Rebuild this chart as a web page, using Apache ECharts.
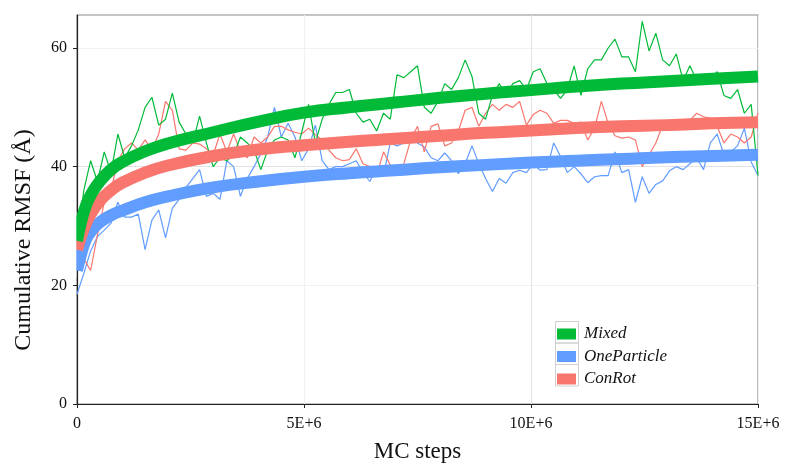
<!DOCTYPE html>
<html><head><meta charset="utf-8">
<script src="https://cdn.jsdelivr.net/npm/echarts@6/dist/echarts.min.js"></script>
<style>html,body{margin:0;padding:0;background:#fff}#c{width:785px;height:465px}</style>
</head><body><div id="c"></div>
<script>
// sampling step of the noisy traces (MC steps per sample)
const STEP = 150000;
const mixed = [27,36,41,37.5,42.5,39,45.5,41.5,43.5,46.2,50,51.7,47,48,52.4,47.5,45.5,
44,48.5,44,40,41.5,41,42,45,44,42.8,39.5,42.8,44.5,45,44.5,41.5,45.8,
50.5,44,48,50.5,52.5,52.5,53,49,47.5,48,46,49,48,55.5,55,56,57,
50,49,51,54,53,55,58,55.2,49,48,52,54,52,54,54.5,53,
56,56.5,54,53,51.5,53,57,52,56.5,58,58,60,61.5,58.5,58.5,56,64.5,
59.5,62.5,58,57,59,54.5,57,54.5,55.5,54.5,56,52,51.5,53,49,50.5,38.5];
const conrot = [26,24.5,22.5,28.5,34,36,41,43,44,42.8,44.5,42.8,45.5,51,49.5,43,42.8,
44,43.8,43,42,45.5,42.5,45.5,42.5,41.5,45,44,45,46.8,46.8,46.2,45.8,45.5,
46.5,45.4,44.5,42.8,41.5,41,41.2,43,40.5,40,38.5,42.5,40.3,38.5,40.5,44.5,46.8,
42.5,46.8,47.2,43.5,44,46,49.5,50,46.8,49,50.5,49.5,50.5,50,51,47,
48.8,49.5,49,47.3,47.8,47.8,47.3,47.5,44.5,46.5,51,47.3,45.2,44.8,45,44.5,40,
42,44,47,46.7,46.5,46.8,47.8,49,48.4,48.2,46.8,44,45.5,45,44,45,49];
const onepart = [18.5,22,25.8,28.2,29.3,30.5,34,31.5,31.5,32,26,31,32.7,28,33,34.5,36.5,
38,39.5,35,35.5,34.5,41,40,35,38,40,42.2,45,50,45,47.3,45,41,
43,47,41,39.5,40,40,40.5,41,39,37.5,40,38.5,44,43.5,44,45,44,
43.3,41.5,41,42.3,41,38.8,40.5,43.5,40.5,38,35.8,38,37.2,39,39.4,39,
40.5,39.4,39.5,44,41.7,39,40,38.8,37.3,38.3,38.5,38.5,42.5,39,39.5,34,38.3,
35.5,37,37.6,39.3,40,39.5,40.5,41.5,39.5,44,45.5,42,42.5,43.5,46.5,40.8,38.5];
// smooth fit curves
const fitSteps = [0,1e5,2e5,3e5,5e5,7.5e5,1e6,1.5e6,2e6,3e6,4e6,5e6,6e6,7e6,8e6,9e6,10e6,11e6,12e6,13e6,14e6,15e6];
const fitMixed = [27.5,31,33.5,35.2,37.5,39.5,40.8,42.6,43.9,45.8,47.6,49.1,50.0,50.8,51.6,52.3,52.9,53.5,54.0,54.4,54.8,55.2];
const fitConrot = [26,28.5,30.5,32,34.2,36,37.3,39.0,40.2,41.8,42.9,43.6,44.2,44.7,45.2,45.7,46.1,46.5,46.8,47.0,47.3,47.5];
const fitOnepart = [22.5,25.5,27.8,29.0,30.6,31.8,32.6,34.0,35.0,36.5,37.5,38.3,38.9,39.4,39.9,40.3,40.7,41.0,41.3,41.6,41.8,42.0];
const names = ['Mixed','OneParticle','ConRot'];
const xTicks = [0,5e6,10e6,15e6];
const yTicks = [0,20,40,60];

const colors = {Mixed:'#00BA38', OneParticle:'#619CFF', ConRot:'#F8766D'};
const pair = (arr) => arr.map((v,i)=>[i*STEP, v]);
const fpair = (arr) => arr.map((v,i)=>[fitSteps[i], v]);
const FONT = '"Liberation Serif", serif';

const noisy = (name, arr) => ({type:'line', name, data:pair(arr), showSymbol:false, smooth:false,
  lineStyle:{width:1.2, color:colors[name]}, itemStyle:{color:colors[name]}, z:2, silent:true});
const fit = (name, arr) => ({type:'line', name, data:fpair(arr), showSymbol:false, smooth:true,
  lineStyle:{width:12, color:colors[name], cap:'butt'}, itemStyle:{color:colors[name]}, z:3, silent:true});

const chart = echarts.init(document.getElementById('c'), null, {renderer:'canvas'});
chart.setOption({
  animation:false,
  backgroundColor:'#fff',
  grid:{left:77, right:27, top:15, bottom:61, outerBoundsMode:'none', containLabel:false,
    show:true, borderColor:'#8c8c8c', borderWidth:1.2, backgroundColor:'#fff'},
  xAxis:{type:'value', min:0, max:15e6, interval:2.5e6,
    axisLine:{show:true, onZero:false, lineStyle:{color:'#222', width:1.2}},
    axisTick:{show:true, customValues:xTicks, length:4, lineStyle:{color:'#222'}},
    axisLabel:{customValues:xTicks, fontFamily:FONT, fontSize:16, color:'#111', margin:12,
      formatter:(v)=> v===0 ? '0' : (v/1e6)+'E+6'},
    splitLine:{show:true, lineStyle:{color:['#e2e2e2','#f1f1f1'], width:1}},
    name:'MC steps', nameLocation:'middle', nameGap:36,
    nameTextStyle:{fontFamily:FONT, fontSize:23, color:'#111'}},
  yAxis:{type:'value', min:0, max:65.56, interval:10,
    axisLine:{show:true, lineStyle:{color:'#222', width:1.2}},
    axisTick:{show:true, customValues:yTicks, length:4, lineStyle:{color:'#222'}},
    axisLabel:{customValues:yTicks, fontFamily:FONT, fontSize:16, color:'#111', margin:10},
    splitLine:{show:true, lineStyle:{color:['#e2e2e2','#f1f1f1'], width:1}}},
  legend:{show:true, orient:'vertical', left:557, top:325.5, padding:0, data:names,
    icon:'rect', itemWidth:19, itemHeight:11, itemGap:5.5,
    textStyle:{fontFamily:FONT, fontSize:17, fontStyle:'italic', color:'#111', lineHeight:16, padding:[0,0,0,3]}},
  graphic:[
    ...[0,1,2].map(i=>({type:'rect', z:100, silent:true,
      shape:{x:555.5, y:321.5+21.5*i, width:23, height:21.5},
      style:{fill:'none', stroke:'#cfcfcf', lineWidth:1}})),
    {type:'rect', z:50, silent:true, shape:{x:68, y:212, width:8.3, height:65}, style:{fill:'#fff'}},
    {type:'text', z:60, silent:true, x:24, y:240, rotation:Math.PI/2,
      style:{text:'Cumulative RMSF (Å)', font:'24px "Liberation Serif", serif', fill:'#111', align:'center', verticalAlign:'middle'}}
  ],
  series:[
    noisy('OneParticle', onepart), noisy('ConRot', conrot), noisy('Mixed', mixed),
    fit('OneParticle', fitOnepart), fit('ConRot', fitConrot), fit('Mixed', fitMixed)
  ]
});
</script></body></html>
